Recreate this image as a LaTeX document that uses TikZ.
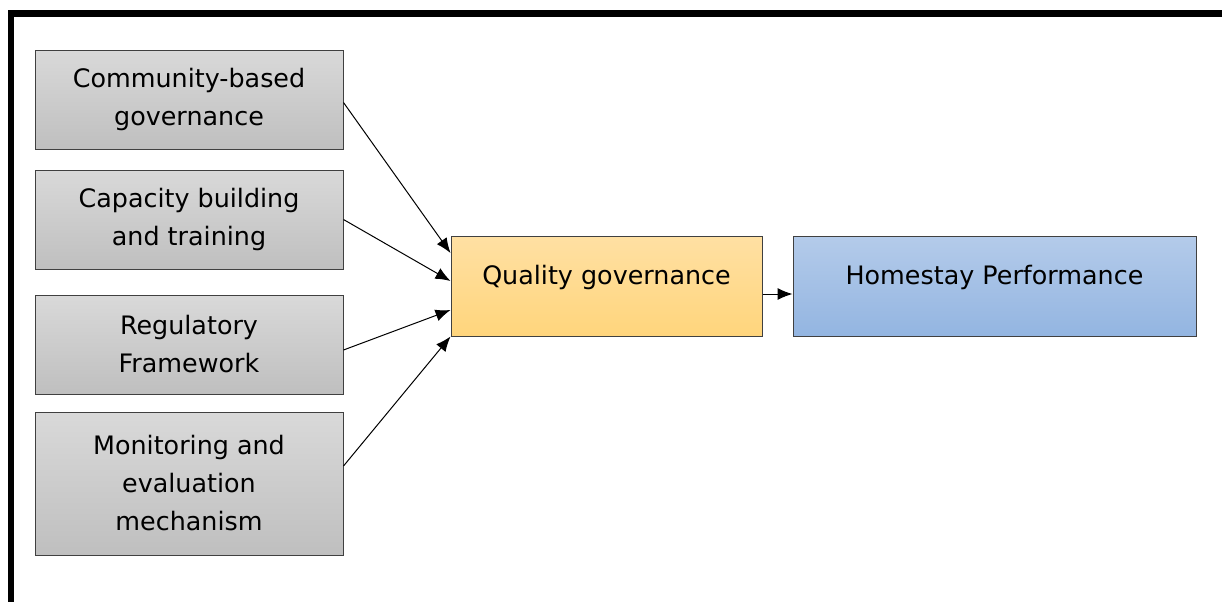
\documentclass[tikz,border=0pt]{standalone}
\usepackage{fontspec}
\setmainfont{DejaVu Sans}
\usetikzlibrary{arrows.meta}

\definecolor{greytop}{HTML}{D9D9D9}
\definecolor{greybot}{HTML}{BFBFBF}
\definecolor{orangetop}{HTML}{FFE0A3}
\definecolor{orangebot}{HTML}{FFD57C}
\definecolor{bluetop}{HTML}{B4CBEA}
\definecolor{bluebot}{HTML}{93B5E1}
\definecolor{edgegrey}{HTML}{404040}

\begin{document}
\begin{tikzpicture}[
  x=0.5pt,y=-0.5pt,
  box/.style={rectangle,draw=edgegrey,line width=0.5pt,align=center,inner sep=0pt,
    font=\fontsize{12.7}{19}\selectfont},
  factor/.style={box,top color=greytop,bottom color=greybot,minimum width=154pt},
  % single-line boxes keep their text in the upper half
  mediator/.style={box,top color=orangetop,bottom color=orangebot,minimum width=155.5pt,minimum height=50pt,
    text height=9.5pt,text depth=11pt},
  outcome/.style={box,top color=bluetop,bottom color=bluebot,minimum width=201.5pt,minimum height=50pt,
    text height=9.5pt,text depth=11pt},
  link/.style={line width=0.5pt,-{Latex[length=7.5pt,width=6pt]}}
]
  \useasboundingbox (0,0) rectangle (1222,601);
  % open frame, left and top sides only
  \draw[line width=3.3pt] (11,610) -- (11,13.5) -- (1230,13.5);

  \node[factor,minimum height=49.5pt] (f1) at (189,99.5) {Community-based\\governance};
  \node[factor,minimum height=49.5pt] (f2) at (189,219.5) {Capacity building\\and training};
  \node[factor,minimum height=49.5pt] (f3) at (189,344.5) {Regulatory\\Framework};
  \node[factor,minimum height=71.5pt] (f4) at (189,483.5) {Monitoring and\\evaluation\\mechanism};

  \node[mediator] (qual) at (606.5,286) {Quality governance};
  \node[outcome] (perf) at (994.5,286) {Homestay Performance};

  \draw[link] ([yshift=-1.5pt]f1.east) -- ([yshift=16.5pt]qual.west);
  \draw[link] (f2.east) -- ([yshift=2.5pt]qual.west);
  \draw[link] ([yshift=-2.75pt]f3.east) -- ([yshift=-12pt]qual.west);
  \draw[link] ([yshift=8.75pt]f4.east) -- (qual.south west);
  \draw[link] ([yshift=-4pt]qual.east) -- ([yshift=-4pt]perf.west);
\end{tikzpicture}
\end{document}
